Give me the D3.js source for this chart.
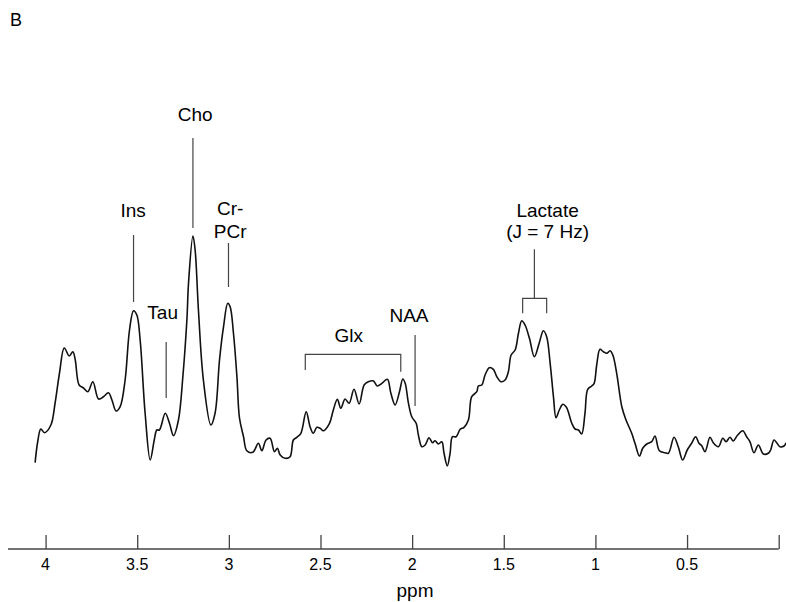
<!DOCTYPE html>
<html>
<head>
<meta charset="utf-8">
<script src="https://cdn.jsdelivr.net/npm/d3@7"></script>
<style>
  body { margin: 0; background: #fff; }
  svg { display: block; font-family: "Liberation Sans", Arial, Helvetica, sans-serif; }
</style>
</head>
<body>
<div id="content"></div>
<script>
// chemical shift (ppm) of each traced point
const ppm = [
  4.057, 4.044, 4.026, 4.006, 3.971, 3.948, 3.924, 3.898, 3.871, 3.851, 3.838, 3.817, 3.793, 3.769, 3.742,
  3.711, 3.684, 3.657, 3.638, 3.615, 3.593, 3.566, 3.542, 3.520, 3.502, 3.484, 3.457, 3.429, 3.407, 3.393,
  3.379, 3.347, 3.324, 3.302, 3.275, 3.251, 3.229, 3.220, 3.196, 3.184, 3.166, 3.139, 3.098, 3.075, 3.051,
  3.029, 3.006, 2.993, 2.975, 2.956, 2.942, 2.920, 2.902, 2.869, 2.839, 2.820, 2.797, 2.775, 2.751, 2.735,
  2.720, 2.693, 2.666, 2.648, 2.629, 2.607, 2.578, 2.557, 2.539, 2.520, 2.502, 2.484, 2.451, 2.430, 2.408,
  2.389, 2.366, 2.344, 2.317, 2.289, 2.262, 2.239, 2.211, 2.190, 2.165, 2.135, 2.116, 2.093, 2.069, 2.051,
  2.038, 2.020, 2.002, 1.978, 1.966, 1.947, 1.929, 1.908, 1.889, 1.875, 1.857, 1.838, 1.826, 1.808, 1.793,
  1.780, 1.760, 1.738, 1.717, 1.693, 1.675, 1.647, 1.639, 1.620, 1.602, 1.579, 1.557, 1.538, 1.515, 1.493,
  1.475, 1.460, 1.438, 1.420, 1.402, 1.384, 1.360, 1.333, 1.307, 1.284, 1.266, 1.247, 1.229, 1.215, 1.197,
  1.178, 1.160, 1.148, 1.129, 1.111, 1.093, 1.075, 1.057, 1.042, 1.020, 1.007, 0.993, 0.975, 0.957, 0.938,
  0.920, 0.905, 0.884, 0.856, 0.833, 0.802, 0.784, 0.760, 0.742, 0.720, 0.693, 0.675, 0.651, 0.620, 0.602,
  0.571, 0.548, 0.524, 0.499, 0.475, 0.453, 0.435, 0.420, 0.402, 0.375, 0.357, 0.329, 0.305, 0.287, 0.266,
  0.248, 0.224, 0.196, 0.175, 0.157, 0.135, 0.111, 0.084, 0.057, 0.044, 0.026, 0.011, -0.007, -0.029, -0.040
];

// signal intensity (arbitrary units) at each point
const intensity = [
  7.3, 27, 41, 37.3, 45, 67, 97, 122, 114, 118.3, 110, 85, 82, 78.3, 88.3,
  71, 73.3, 77.3, 70, 59, 63.3, 90, 140, 159.3, 155, 130, 57, 10, 30, 40,
  40, 56.7, 46.7, 34.3, 50, 93.3, 150, 187, 234, 220, 160, 90, 45, 57, 110,
  143.3, 166.7, 163.3, 137, 93.3, 52, 33.3, 19.3, 17.7, 26.7, 19.3, 30, 31.7, 18.3, 21.7,
  15, 11.7, 13.3, 30, 32.7, 36.7, 58.3, 43.3, 36.7, 42.7, 41.7, 39.3, 46.7, 60, 70.7,
  61.7, 71, 66.7, 80.7, 66, 85, 88.3, 89, 84, 86.7, 90.7, 76.7, 65, 78.3, 91,
  86.7, 66.7, 53.3, 46.7, 35, 23.3, 25, 32.3, 27.3, 29.3, 26, 28.3, 16.7, 4, 16.7,
  33.3, 33.3, 40.7, 42.7, 50, 73.3, 78.3, 84, 85, 95, 102.3, 100.7, 93.3, 88.3, 90,
  98.3, 115, 120, 136.7, 149.3, 145, 131.7, 113.3, 126.7, 139.3, 133.3, 106.7, 73.3, 52.3, 60,
  65.7, 63.3, 58.3, 46.7, 41, 40, 36, 56.7, 80.7, 84, 86.7, 105, 120.7, 118.3, 116.7,
  119.3, 115, 96.7, 63.3, 50, 36.7, 26.7, 14, 21.7, 26, 28.3, 34, 19.3, 17.3, 16.7,
  32.7, 23.3, 10, 20, 26.7, 33.3, 26.7, 24.3, 18.3, 32.7, 27.3, 23.3, 31.7, 28.3, 32.7,
  29, 35, 39.3, 33.3, 28.3, 17.3, 25, 16, 16.7, 20, 30, 27.3, 23.3, 24, 27.3
];

const tickValues = [4, 3.5, 3, 2.5, 2, 1.5, 1, 0.5];

// single-line peak labels: text centre, line position (ppm)
const peakNames = ['Cho', 'Ins', 'Tau', 'NAA'];
const peakTextPpm = [3.184, 3.522, 3.361, 2.017];
const peakLinePpm = [3.196, 3.520, 3.342, 1.984];

const width = 786;
const height = 602;

const svg = d3.select('#content')
    .append('svg')
    .attr('width', width)
    .attr('height', height);

const xScale = d3.scaleLinear()
    .domain([0, 4.205])
    .range([778.7, 8]);

const yScale = d3.scaleLinear()
    .domain([0, 250])
    .range([470, 220]);

const ink = '#000';
const grey = '#444';

// panel letter
svg.append('text')
    .attr('x', 10)
    .attr('y', 26)
    .attr('font-size', 18)
    .attr('fill', ink)
    .text('B');

// spectrum
const points = ppm.map((p, i) => [p, intensity[i]]);
const line = d3.line()
    .x(d => xScale(d[0]))
    .y(d => yScale(d[1]))
    .curve(d3.curveCatmullRom.alpha(0.5));

svg.append('path')
    .datum(points)
    .attr('d', line)
    .attr('fill', 'none')
    .attr('stroke', '#111')
    .attr('stroke-width', 1.6)
    .attr('stroke-linejoin', 'round');

// x axis, ticks pointing up
const axisY = 549;
const xAxis = d3.axisTop(xScale)
    .tickValues(tickValues.concat([0]))
    .tickSize(14)
    .tickFormat('');

const gx = svg.append('g')
    .attr('transform', `translate(0, ${axisY})`)
    .call(xAxis);
gx.select('.domain')
    .attr('d', `M${xScale(4.205)},0H${xScale(0)}`)
    .attr('stroke', grey)
    .attr('stroke-width', 1.3);
gx.selectAll('.tick line')
    .attr('stroke', grey)
    .attr('stroke-width', 1.3);

svg.selectAll('.tick-label')
    .data(tickValues)
    .enter()
    .append('text')
    .attr('class', 'tick-label')
    .attr('x', d => xScale(d))
    .attr('y', 570)
    .attr('text-anchor', 'middle')
    .attr('font-size', 16)
    .attr('fill', ink)
    .text(d => d);

svg.append('text')
    .attr('x', 415)
    .attr('y', 597)
    .attr('text-anchor', 'middle')
    .attr('font-size', 19)
    .attr('fill', ink)
    .text('ppm');

// annotations
const label = (txt, p, y) => svg.append('text')
    .attr('x', xScale(p))
    .attr('y', y)
    .attr('text-anchor', 'middle')
    .attr('font-size', 19)
    .attr('fill', ink)
    .text(txt);

const seg = (pts) => svg.append('path')
    .attr('d', d3.line()(pts))
    .attr('fill', 'none')
    .attr('stroke', grey)
    .attr('stroke-width', 1.2);

// text baseline and line extent for the single peaks
const peakTextY = [121, 216.7, 319.3, 321.7];
const peakLineY = [[138, 228], [235, 302], [342, 398], [335, 406]];
peakNames.forEach((n, i) => {
    label(n, peakTextPpm[i], peakTextY[i]);
    const x = xScale(peakLinePpm[i]);
    seg([[x, peakLineY[i][0]], [x, peakLineY[i][1]]]);
});

// Cr-PCr
label('Cr-', 2.993, 215);
label('PCr', 2.993, 238.3);
seg([[xScale(3.002), 243], [xScale(3.002), 287]]);

// Glx bracket
label('Glx', 2.346, 341.7);
seg([[xScale(2.583), 370], [xScale(2.583), 354.3], [xScale(2.062), 354.3], [xScale(2.062), 371.7]]);

// Lactate doublet
label('Lactate', 1.261, 217.3);
label('(J = 7 Hz)', 1.261, 238.3);
seg([[xScale(1.333), 249.3], [xScale(1.333), 298.3]]);
seg([[xScale(1.397), 313.3], [xScale(1.397), 298.3], [xScale(1.266), 298.3], [xScale(1.266), 313.3]]);
</script>
</body>
</html>
